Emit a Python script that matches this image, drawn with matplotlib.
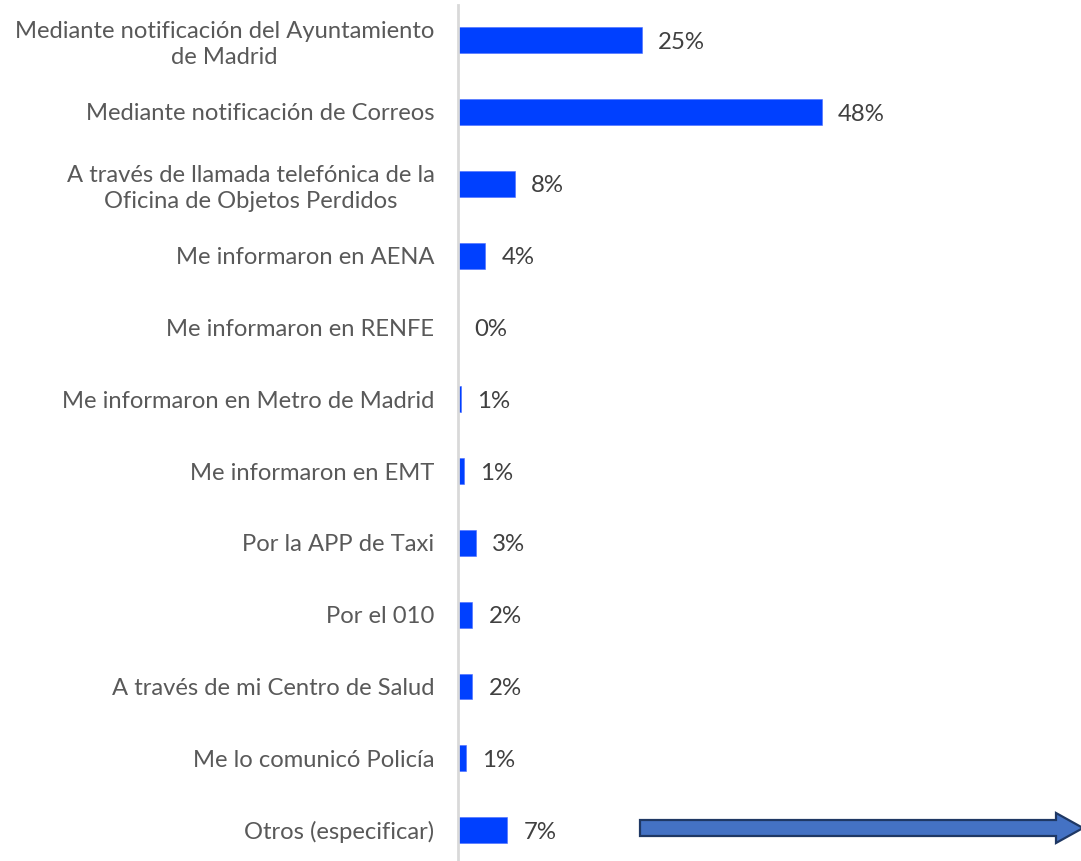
import matplotlib
matplotlib.use("Agg")
import matplotlib.pyplot as plt
from matplotlib.patches import Polygon
from matplotlib.transforms import IdentityTransform

categories = [
    "Mediante notificación del Ayuntamiento\nde Madrid",
    "Mediante notificación de Correos",
    "A través de llamada telefónica de la\nOficina de Objetos Perdidos",
    "Me informaron en AENA",
    "Me informaron en RENFE",
    "Me informaron en Metro de Madrid",
    "Me informaron en EMT",
    "Por la APP de Taxi",
    "Por el 010",
    "A través de mi Centro de Salud",
    "Me lo comunicó Policía",
    "Otros (especificar)",
]
values = [24.2, 48.0, 7.5, 3.6, 0.0, 0.4, 0.8, 2.4, 1.9, 1.9, 1.1, 6.5]
value_labels = ["25%", "48%", "8%", "4%", "0%", "1%", "1%", "3%", "2%", "2%", "1%", "7%"]

BAR = "#0040FF"
TXT = "#595959"

plt.rcParams["font.family"] = ["Lato", "DejaVu Sans"]

W, H = 1081, 861
fig = plt.figure(figsize=(W / 100, H / 100), dpi=100)
ax = fig.add_axes([458 / W, 0, (W - 458) / W, 856 / H])

ys = list(range(len(categories)))
ax.barh(ys, values, height=0.36, color=BAR, edgecolor="#4a6cff", lw=0.4)
for y, v, lab in zip(ys, values, value_labels):
    ax.annotate(lab, (v, y), xytext=(11.5, -1.5), textcoords="offset points",
                ha="left", va="center", fontsize=17.3, color="#404040")

ax.set_yticks(ys)
ax.set_yticklabels(categories, fontsize=17.1, color=TXT,
                   multialignment="center", linespacing=1.3)
ax.tick_params(axis="y", length=0, pad=17)
ax.set_xticks([])
ax.set_xlim(0, (W - 458) / (364 / 48.0))
ax.set_ylim(11.43, -0.49)
for s in ("top", "right", "bottom"):
    ax.spines[s].set_visible(False)
ax.spines["left"].set_color("#D9D9D9")
ax.spines["left"].set_linewidth(2)

# decorative arrow next to "Otros" (pixel coordinates, origin bottom-left)
yc = H - 828
arrow = Polygon([(640, yc + 8), (1056, yc + 8), (1056, yc + 15), (1083, yc),
                 (1056, yc - 15), (1056, yc - 8), (640, yc - 8)],
                closed=True, transform=IdentityTransform(),
                facecolor="#4472C4", edgecolor="#1F3864", lw=1.6, clip_on=False)
fig.patches.append(arrow)

fig.savefig("out.png", dpi=100)
